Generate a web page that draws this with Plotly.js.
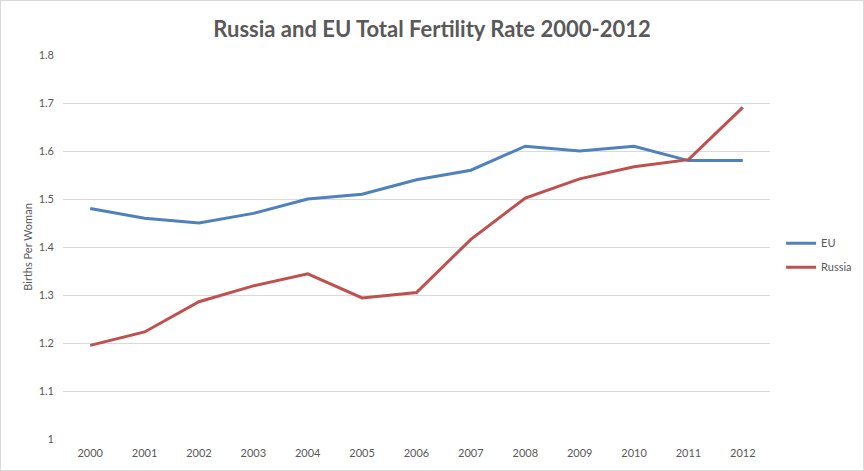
<!DOCTYPE html>
<html><head><meta charset="utf-8">
<script src="https://cdn.plot.ly/plotly-3.0.1.min.js"></script>
<style>html,body{margin:0;padding:0;background:#fff;}#chart{width:864px;height:471px;box-sizing:border-box;border:1px solid #D9D9D9;}</style>
</head><body><div id="chart"></div>
<script>
const years = ['2000','2001','2002','2003','2004','2005','2006','2007','2008','2009','2010','2011','2012'];
const eu = [1.48,1.46,1.45,1.47,1.50,1.51,1.54,1.56,1.61,1.60,1.61,1.58,1.58];
const russia = [1.195,1.223,1.286,1.319,1.344,1.294,1.305,1.416,1.502,1.542,1.567,1.582,1.691];
const yTicks = [1,1.1,1.2,1.3,1.4,1.5,1.6,1.7,1.8];
const yTickText = ['1','1.1','1.2','1.3','1.4','1.5','1.6','1.7','1.8'];

const font = 'Lato, "Open Sans", sans-serif';
const traces = [
  {x: years, y: eu, name: 'EU', legendgroup: 'a', type: 'scatter', mode: 'lines', line: {color: '#4F81BD', width: 3}},
  {x: years, y: russia, name: 'Russia', legendgroup: 'b', type: 'scatter', mode: 'lines', line: {color: '#C0504D', width: 3}}
];
const layout = {
  width: 862, height: 469,
  margin: {l: 62, r: 93, t: 54, b: 31, autoexpand: false},
  paper_bgcolor: '#fff', plot_bgcolor: '#fff',
  font: {family: font, size: 11, color: '#595959'},
  title: {text: '<b>Russia and EU Total Fertility Rate 2000-2012</b>', font: {family: font, size: 22, color: '#595959'}, x: 0.5, xanchor: 'center', y: 0.94, yanchor: 'middle', yref: 'container'},
  xaxis: {type: 'category', range: [-0.5, 12.5], showgrid: false, zeroline: false, showline: false, ticks: '', ticklabelstandoff: 6, tickfont: {size: 11, color: '#595959'}, fixedrange: true},
  yaxis: {range: [1, 1.8], tickvals: yTicks, ticktext: yTickText, showgrid: true, gridcolor: '#D9D9D9', gridwidth: 1, zeroline: false, showline: false, ticks: '', ticklabelstandoff: 8, tickfont: {size: 11, color: '#595959'},
    title: {text: 'Births Per Woman', font: {size: 11, color: '#595959'}, standoff: 3}},
  showlegend: true,
  legend: {xref: 'container', x: 0.905, xanchor: 'left', yref: 'container', y: 0.458, yanchor: 'middle', traceorder: 'grouped', tracegroupgap: 5, font: {size: 11, color: '#595959'}}
};
Plotly.newPlot('chart', traces, layout, {displayModeBar: false, staticPlot: true});
</script></body></html>
